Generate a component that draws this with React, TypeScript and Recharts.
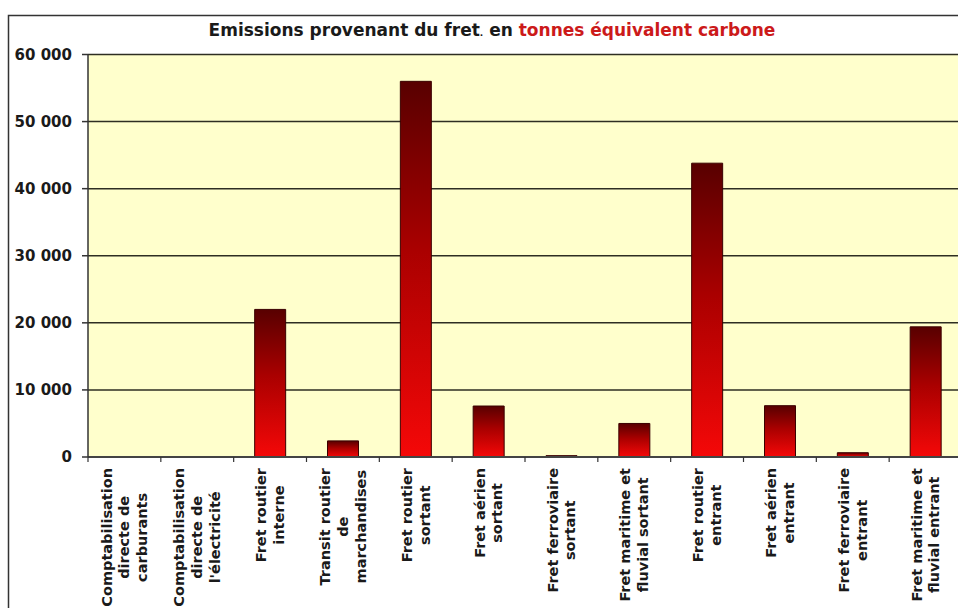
import React from "react";
import { BarChart, Bar, XAxis, YAxis, CartesianGrid } from "recharts";

// Freight emissions by category, in tonnes of carbon equivalent
const categories = [
  "Comptabilisation directe de carburants",
  "Comptabilisation directe de l'électricité",
  "Fret routier interne",
  "Transit routier de marchandises",
  "Fret routier sortant",
  "Fret aérien sortant",
  "Fret ferroviaire sortant",
  "Fret maritime et fluvial sortant",
  "Fret routier entrant",
  "Fret aérien entrant",
  "Fret ferroviaire entrant",
  "Fret maritime et fluvial entrant",
];

const categoryLines = [
  ["Comptabilisation", "directe de", "carburants"],
  ["Comptabilisation", "directe de", "l'électricité"],
  ["Fret routier", "interne"],
  ["Transit routier", "de", "marchandises"],
  ["Fret routier", "sortant"],
  ["Fret aérien", "sortant"],
  ["Fret ferroviaire", "sortant"],
  ["Fret maritime et", "fluvial sortant"],
  ["Fret routier", "entrant"],
  ["Fret aérien", "entrant"],
  ["Fret ferroviaire", "entrant"],
  ["Fret maritime et", "fluvial entrant"],
];

const emissions = [0, 0, 22000, 2400, 56000, 7600, 200, 5000, 43800, 7650, 640, 19400];

const yTicks = [0, 10000, 20000, 30000, 40000, 50000, 60000];

const data = categories.map((name, i) => ({ name, value: emissions[i] }));

const FONT = "'DejaVu Sans', Verdana, sans-serif";
const CHART_W = 972;
const CHART_H = 620;
const MARGIN = { top: 54.5, right: 10, bottom: 13, left: 8 };
const Y_AXIS_W = 80;
const X_AXIS_H = 150;
const PLOT_LEFT = MARGIN.left + Y_AXIS_W;
const PLOT_W = CHART_W - MARGIN.right - PLOT_LEFT;
const AXIS_Y = CHART_H - MARGIN.bottom - X_AXIS_H;
const BAND_W = PLOT_W / categories.length;

const LABEL_SIZE = 14.5;
const LINE_STEP = 17.8;
const LABEL_TOP = AXIS_Y + 11;

let measureCtx: CanvasRenderingContext2D | null = null;
function textWidth(s: string): number {
  if (!measureCtx) {
    const c = document.createElement("canvas");
    measureCtx = c.getContext("2d");
  }
  if (!measureCtx) return s.length * LABEL_SIZE * 0.62;
  measureCtx.font = `bold ${LABEL_SIZE}px 'DejaVu Sans'`;
  return measureCtx.measureText(s).width;
}

const fmt = (v: number) => (v === 0 ? "0" : String(v).replace(/\B(?=(\d{3})+(?!\d))/g, " "));

function CategoryTick(props: any) {
  const { x, index } = props;
  const lines = categoryLines[index] || [];
  const blockW = Math.max(...lines.map(textWidth));
  const n = lines.length;
  const left = x - BAND_W / 2;
  return (
    <g>
      <line x1={left} y1={AXIS_Y} x2={left} y2={AXIS_Y + 5} stroke="#333" strokeWidth={1.2} />
      {index === categories.length - 1 && (
        <line x1={left + BAND_W} y1={AXIS_Y} x2={left + BAND_W} y2={AXIS_Y + 5} stroke="#333" strokeWidth={1.2} />
      )}
      {lines.map((ln, i) => {
        const dx = (i - (n - 1) / 2) * LINE_STEP;
        return (
          <text
            key={i}
            transform={`translate(${x + dx}, ${LABEL_TOP + blockW / 2}) rotate(-90)`}
            textAnchor="middle"
            dominantBaseline="central"
            fontFamily={FONT}
            fontWeight="bold"
            fontSize={LABEL_SIZE}
            fill="#1a1a1a"
          >
            {ln}
          </text>
        );
      })}
    </g>
  );
}

export default function App() {
  return (
    <div
      style={{
        position: "fixed",
        left: 0,
        top: 0,
        width: 958,
        height: 608,
        overflow: "hidden",
        background: "#ffffff",
      }}
    >
      <BarChart width={CHART_W} height={CHART_H} data={data} margin={MARGIN}>
        <defs>
          <linearGradient id="barFill" x1="0" y1="0" x2="0" y2="1">
            <stop offset="0%" stopColor="#580000" />
            <stop offset="45%" stopColor="#aa0000" />
            <stop offset="100%" stopColor="#f50808" />
          </linearGradient>
        </defs>
        <CartesianGrid
          vertical={false}
          fill="#ffffcc"
          stroke="#2e2e22"
          strokeWidth={1.5}
          horizontalValues={yTicks}
        />
        <XAxis
          dataKey="name"
          height={X_AXIS_H}
          interval={0}
          tickLine={false}
          axisLine={{ stroke: "#444", strokeWidth: 2 }}
          tick={<CategoryTick />}
        />
        <YAxis
          width={Y_AXIS_W}
          domain={[0, 60000]}
          ticks={yTicks}
          interval={0}
          tickFormatter={fmt}
          tickSize={6}
          tickMargin={10}
          axisLine={{ stroke: "#333", strokeWidth: 1.5 }}
          tickLine={{ stroke: "#333", strokeWidth: 1.5 }}
          tick={{ fontFamily: FONT, fontWeight: "bold", fontSize: 15, fill: "#1a1a1a" }}
        />
        <Bar
          dataKey="value"
          barSize={31}
          fill="url(#barFill)"
          stroke="#3a0000"
          strokeWidth={1}
          isAnimationActive={false}
        />
      </BarChart>
      <svg
        width={958}
        height={608}
        style={{ position: "absolute", left: 0, top: 0, pointerEvents: "none" }}
      >
        <rect x={8.5} y={15.5} width={1000} height={1000} fill="none" stroke="#333" strokeWidth={1.5} />
        <text
          x={492}
          y={36}
          textAnchor="middle"
          fontFamily={FONT}
          fontWeight="bold"
          fontSize={17}
          fill="#1a1a1a"
        >
          <tspan>Emissions provenant du fret</tspan>
          <tspan fontSize={9}>.</tspan>
          <tspan> en </tspan>
          <tspan fill="#cc1a1a">tonnes équivalent carbone</tspan>
        </text>
      </svg>
    </div>
  );
}
